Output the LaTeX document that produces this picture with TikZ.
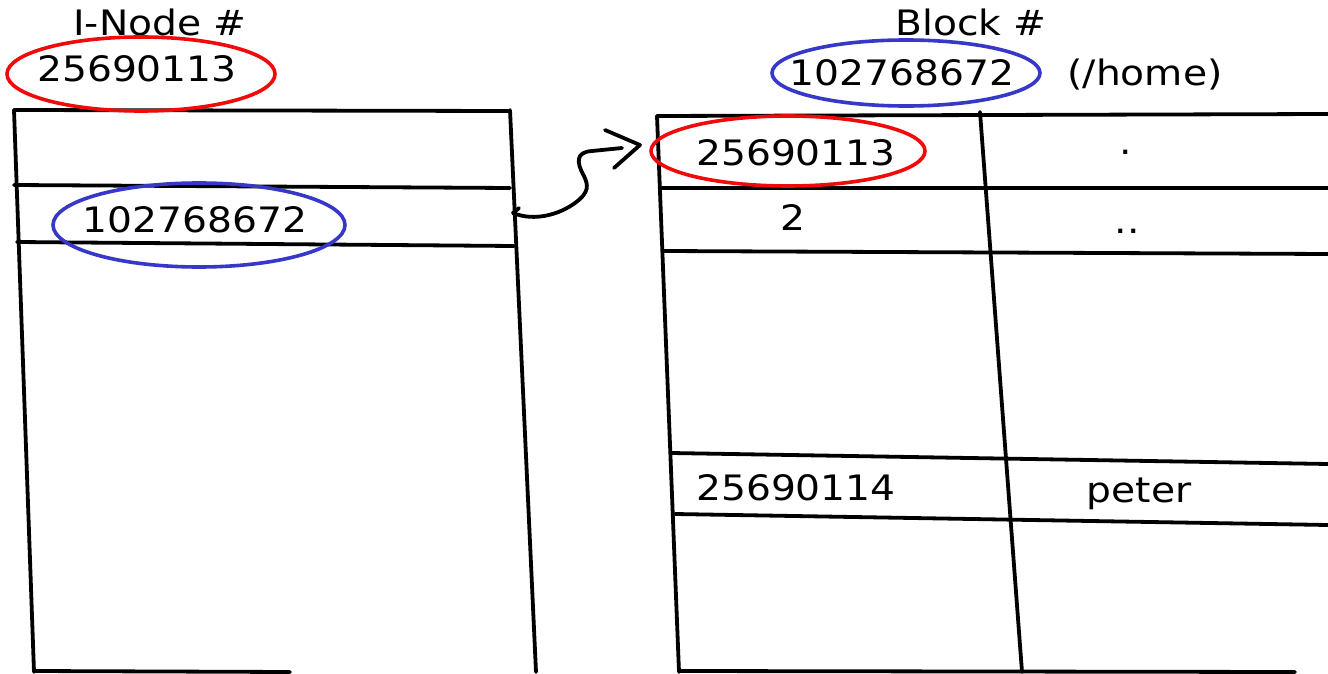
\documentclass[tikz,border=0pt]{standalone}
\usepackage{fontspec}
\setmainfont[FakeStretch=1.12]{DejaVu Sans}
\definecolor{ringred}{RGB}{240,10,10}
\definecolor{ringblue}{RGB}{55,55,200}
\begin{document}
\begin{tikzpicture}[x=1pt,y=-1pt,
  tbl/.style={line width=3.8pt, line cap=round, line join=round},
  lbl/.style={font=\fontsize{35}{40}\selectfont, inner sep=0pt, anchor=base},
  redring/.style={draw=ringred, line width=3.6pt},
  bluering/.style={draw=ringblue, line width=3.6pt},
  pen/.style={line width=3.8pt, line cap=round, line join=round}]
\useasboundingbox[fill=white] (0,0) rectangle (1328,674);

% ---------- left table (i-node) ----------
\draw[tbl] (14,110) -- (510,111);
\draw[tbl] (14,185) -- (510,188);
\draw[tbl] (17,242) -- (514,246);
\draw[tbl] (14,110) -- (34,672);
\draw[tbl] (510,110) -- (536,672);
\draw[tbl] (34,671) -- (290,672);

% ---------- right table (block) ----------
\draw[tbl] (657,116) -- (1328,114);
\draw[tbl] (660,188) -- (1328,188);
\draw[tbl] (664,251) -- (1328,254);
\draw[tbl] (671,453) -- (1328,464);
\draw[tbl] (675,514) -- (1328,525);
\draw[tbl] (657,116) -- (679,672);
\draw[tbl] (980,112) -- (1022,672);
\draw[tbl] (679,671) -- (1295,672);

% ---------- labels ----------
\node[lbl] (inodehead) at (160,36) {I-Node \#};
\node[lbl] (inodenum)  at (137,82) {25690113};
\node[lbl] (blockptr)  at (195,232) {102768672};
\node[lbl] (blockhead) at (971,36) {Block \#};
\node[lbl] (blocknum)  at (902,86) {102768672};
\node[lbl] (home)      at (1145,86) {(/home)};
\node[lbl] (selfnum)   at (796,165) {25690113};
\node[lbl] (dot)       at (1126,155) {.};
\node[lbl] (parnum)    at (793,230) {2};
\node[lbl] (dotdot)    at (1127,233) {..};
\node[lbl] (peternum)  at (796,500) {25690114};
\node[lbl] (peter)     at (1139,502) {peter};

% ---------- hand-drawn rings ----------
\draw[redring] (141,74) ellipse [x radius=134, y radius=37];
\draw[bluering] (199,225) ellipse [x radius=146, y radius=42];
\draw[bluering] (906,73) ellipse [x radius=134, y radius=33];
\draw[redring] (788,151) ellipse [x radius=137, y radius=35];

% ---------- connector ----------
\coordinate (from) at (513,213);
\coordinate (shaftend) at (622,148);
\coordinate (tip) at (640,145);
\draw[pen] (from) .. controls (535,222) and (560,214) .. (575,203)
  .. controls (590,192) and (588,185) .. (584,176)
  .. controls (576,162) and (576,152) .. (592,151)
  -- (shaftend);
\draw[pen] (from) -- (519,208);
\draw[pen] (605,130) -- (tip) -- (614,168);
\end{tikzpicture}
\end{document}
